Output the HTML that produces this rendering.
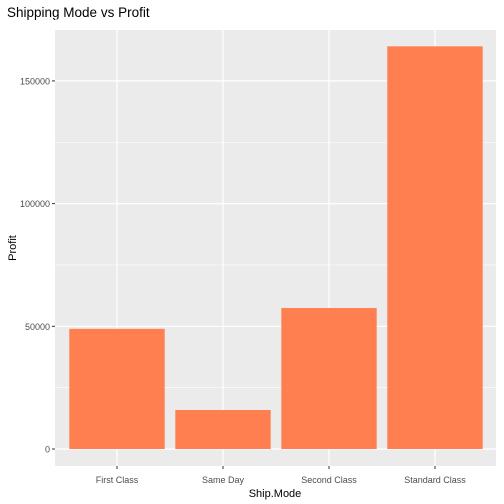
<!DOCTYPE html>
<html><head><meta charset="utf-8"><style>
body{margin:0;background:#fff;}
svg{display:block;font-family:"Liberation Sans",Arial,sans-serif;}
</style></head><body>
<svg id="chart" width="504" height="504">
<rect width="504" height="504" fill="#fff"/>
<text x="7" y="17" font-size="13.5" fill="#000">Shipping Mode vs Profit</text>
<rect id="panel" x="55" y="30" width="441" height="436" fill="#ebebeb"/>
<g id="grid"></g><g id="bars"></g><g id="axes"></g>
<text x="275" y="497" font-size="11" text-anchor="middle" fill="#000">Ship.Mode</text>
<text transform="translate(16,248) rotate(-90)" font-size="11" text-anchor="middle" fill="#000">Profit</text>
</svg>
<script>
const categories=["First Class","Same Day","Second Class","Standard Class"];
const profits=[48970,15891,57447,164089];
const yTicks=[0,50000,100000,150000];
const ns="http://www.w3.org/2000/svg";
const L=55,R=496,T=30,B=466;
const y0=449, pxPer=122.7/50000;
function y(v){return y0-v*pxPer;}
const band=106;
function xc(i){return 117+band*i;}
function mk(tag,attrs,parent){const e=document.createElementNS(ns,tag);for(const k in attrs)e.setAttribute(k,attrs[k]);document.getElementById(parent).appendChild(e);return e;}
for(let i=0;i<yTicks.length;i++){
  const m=yTicks[i]+25000;
  const g=mk("line",{x1:L,x2:R,y1:y(m),y2:y(m),stroke:"#fff","stroke-width":0.6},"grid");
  
  
}
yTicks.forEach(t=>{
  const g=mk("line",{x1:L,x2:R,y1:y(t),y2:y(t),stroke:"#fff","stroke-width":1.2},"grid");
  
  
  const tk=mk("line",{x1:L-3,x2:L,y1:y(t),y2:y(t),stroke:"#333","stroke-width":1},"axes");
  
  
  const tx=mk("text",{x:L-5,y:y(t)+3.5,"font-size":9,"text-anchor":"end",fill:"#4d4d4d"},"axes");
  tx.textContent=t;
  
  
});
categories.forEach((c,i)=>{
  const g=mk("line",{x1:xc(i),x2:xc(i),y1:T,y2:B,stroke:"#fff","stroke-width":1.2},"grid");
  
  
  const w=band*0.9;
  const b=mk("rect",{x:xc(i)-w/2,y:y(profits[i]),width:w,height:y(0)-y(profits[i]),fill:"#ff7f50"},"bars");
  
  
  const tk=mk("line",{x1:xc(i),x2:xc(i),y1:B,y2:B+3,stroke:"#333","stroke-width":1},"axes");
  
  
  const tx=mk("text",{x:xc(i),y:B+17,"font-size":9,"text-anchor":"middle",fill:"#4d4d4d"},"axes");
  tx.textContent=c;
  
  
});
</script>
</body></html>
